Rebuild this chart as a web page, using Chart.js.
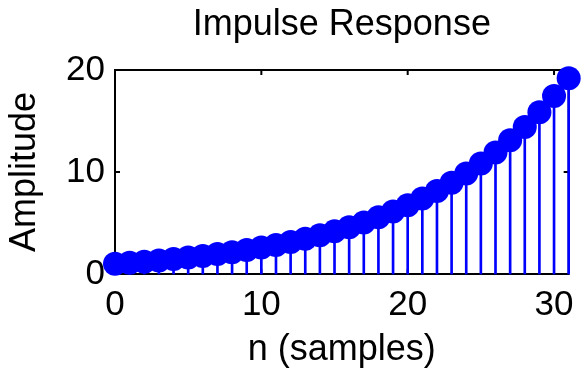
<!DOCTYPE html>
<html>
<head>
<meta charset="utf-8">
<title>Impulse Response</title>
<script src="https://cdn.jsdelivr.net/npm/chart.js@4.4.0/dist/chart.umd.min.js"></script>
<style>
  html, body { margin: 0; padding: 0; background: #fff; }
  #wrap { width: 584px; height: 372px; }
</style>
</head>
<body>
<div id="wrap"><canvas id="impulseChart" width="584" height="372"></canvas></div>
<script>
// sample index and amplitude
const samples = [0, 1, 2, 3, 4, 5, 6, 7, 8, 9, 10, 11, 12, 13, 14, 15,
  16, 17, 18, 19, 20, 21, 22, 23, 24, 25, 26, 27, 28, 29, 30, 31];
const amplitude = [1.00, 1.10, 1.21, 1.33, 1.46, 1.61, 1.77, 1.95, 2.14, 2.36,
  2.59, 2.85, 3.14, 3.45, 3.80, 4.18, 4.59, 5.05, 5.56, 6.12, 6.73, 7.40, 8.14,
  8.95, 9.85, 10.83, 11.92, 13.11, 14.42, 15.86, 17.45, 19.19];

const xTicks = [0, 10, 20, 30];
const yTicks = [0, 10, 20];

const FONT = "'Liberation Sans', Arial, Helvetica, sans-serif";
const BLUE = "#0000ff";

const points = samples.map((n, i) => ({ x: n, y: amplitude[i] }));

// matlab style box with inward ticks, drawn under the data
const axesBox = {
  id: "axesBox",
  beforeDatasetsDraw(chart) {
    const { ctx, chartArea: a, scales } = chart;
    ctx.save();
    ctx.strokeStyle = "#000";
    ctx.lineWidth = 2;
    ctx.strokeRect(a.left, a.top, a.right - a.left, a.bottom - a.top);
    ctx.beginPath();
    xTicks.forEach((v) => {
      const px = scales.x.getPixelForValue(v);
      ctx.moveTo(px, a.bottom);
      ctx.lineTo(px, a.bottom - 5);
      ctx.moveTo(px, a.top);
      ctx.lineTo(px, a.top + 5);
    });
    yTicks.forEach((v) => {
      const py = scales.y.getPixelForValue(v);
      ctx.moveTo(a.left, py);
      ctx.lineTo(a.left + 5, py);
      ctx.moveTo(a.right, py);
      ctx.lineTo(a.right - 5, py);
    });
    ctx.stroke();
    ctx.restore();
  },
};

const ctx = document.getElementById("impulseChart").getContext("2d");
const impulseChart = new Chart(ctx, {
  type: "bar",
  data: {
    datasets: [
      {
        type: "scatter",
        data: points,
        backgroundColor: BLUE,
        borderColor: BLUE,
        borderWidth: 0,
        pointRadius: 12,
        pointHoverRadius: 12,
        clip: false,
        order: 0,
      },
      {
        type: "bar",
        data: points,
        backgroundColor: BLUE,
        barThickness: 2,
        clip: false,
        order: 1,
      },
    ],
  },
  options: {
    responsive: false,
    animation: false,
    devicePixelRatio: 1,
    events: [],
    layout: { padding: { left: 0, right: 12, top: 0, bottom: 0 } },
    plugins: {
      legend: { display: false },
      tooltip: { enabled: false },
      title: {
        display: true,
        fullSize: false,
        text: "Impulse Response",
        color: "#000",
        font: { family: FONT, size: 36, weight: "normal" },
        padding: { top: 3.4, bottom: 23.4 },
      },
    },
    scales: {
      x: {
        type: "linear",
        min: 0,
        max: 31,
        offset: false,
        afterBuildTicks: (s) => { s.ticks = xTicks.map((v) => ({ value: v })); },
        afterFit: (s) => { s.height = 98; },
        grid: { display: false, drawTicks: false },
        border: { display: false },
        ticks: {
          color: "#000",
          padding: 10,
          maxRotation: 0,
          font: { family: FONT, size: 35 },
        },
        title: {
          display: true,
          text: "n (samples)",
          color: "#000",
          font: { family: FONT, size: 36 },
          padding: { top: 4, bottom: 0.5 },
        },
      },
      y: {
        type: "linear",
        min: 0,
        max: 20,
        afterBuildTicks: (s) => { s.ticks = yTicks.map((v) => ({ value: v })); },
        afterFit: (s) => { s.width = 115; },
        grid: { display: false, drawTicks: false },
        border: { display: false },
        ticks: {
          color: "#000",
          padding: 10,
          font: { family: FONT, size: 35 },
        },
        title: {
          display: true,
          text: "Amplitude",
          color: "#000",
          font: { family: FONT, size: 36 },
          padding: { top: 3.5, bottom: 4 },
        },
      },
    },
  },
  plugins: [axesBox],
});
</script>
</body>
</html>
